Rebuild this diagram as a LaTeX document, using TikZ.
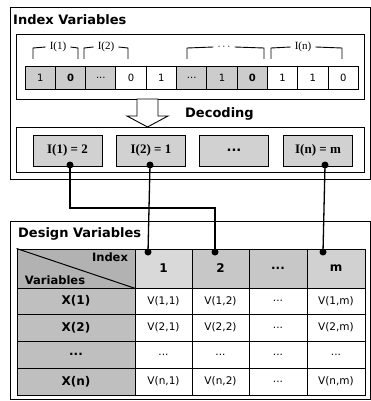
\documentclass[tikz,border=0pt]{standalone}
\usepackage{fontspec}
\setmainfont{Liberation Serif}
\newfontfamily\dv{DejaVu Sans}
\begin{document}
\begin{tikzpicture}[x=1pt,y=-1pt,
  boxframe/.style={draw,line width=0.9pt},
  bit/.style={draw,line width=1pt,minimum width=30.3pt,minimum height=23pt,inner sep=0pt,font=\dv\fontsize{10}{12}\selectfont},
  gcell/.style={fill=black!20},
  deccell/.style={draw,line width=1pt,minimum width=69pt,minimum height=31pt,inner sep=0pt,fill=black!18,font=\bfseries\fontsize{13}{15}\selectfont},
  ttl/.style={anchor=west,inner sep=0pt,font=\dv\bfseries\fontsize{13}{15}\selectfont},
  lbl/.style={inner sep=4pt,font=\fontsize{11}{13}\selectfont},
  brk/.style={line width=0.9pt},
  jdot/.style={circle,fill=black,inner sep=0pt,minimum size=7pt},
  link/.style={line width=1.3pt},
  tcell/.style={draw,line width=1pt,inner sep=0pt,font=\dv\fontsize{10.5}{12}\selectfont},
  hd/.style={tcell,font=\dv\bfseries\fontsize{12}{14}\selectfont},
  rowhd/.style={hd,fill=black!25,minimum width=118pt},
]
\useasboundingbox (0,0) rectangle (371,401);
% ---------- Index variables frame
\draw[boxframe] (10,7) rectangle (370,179);
\node[ttl] (t1) at (13,20) {Index Variables};
\draw[boxframe] (16,34) rectangle (364,99);
% brackets
\node[lbl] (L1) at (58,47) {I(1)};
\draw[brk] (L1.west) -- (33,48) -- (33,59);
\draw[brk] (L1.east) -- (78,48) -- (78,59);
\node[lbl] (L2) at (106,47) {I(2)};
\draw[brk] (L2.west) -- (84,48) -- (84,59);
\draw[brk] (L2.east) -- (128,48) -- (128,59);
\node[lbl] (L3) at (224,47) {$\cdots$};
\draw[brk] (L3.west) -- (187,48) -- (187,59);
\draw[brk] (L3.east) -- (264,48) -- (264,59);
\node[lbl] (L4) at (303,47) {I(n)};
\draw[brk] (L4.west) -- (271,48) -- (271,59);
\draw[brk] (L4.east) -- (342,48) -- (342,59);
% bits
\node[bit,gcell] (b1) at (40.2,78) {1};
\node[bit,gcell] (b2) at (70.5,78) {\bfseries 0};
\node[bit,gcell] (b3) at (100.8,78) {...};
\node[bit] (b4) at (131.1,78) {0};
\node[bit] (b5) at (161.4,78) {1};
\node[bit,gcell] (b6) at (191.7,78) {...};
\node[bit,gcell] (b7) at (222,78) {1};
\node[bit,gcell] (b8) at (252.3,78) {\bfseries 0};
\node[bit] (b9) at (282.6,78) {1};
\node[bit] (b10) at (312.9,78) {1};
\node[bit] (b11) at (343.2,78) {0};
% decoding arrow
\draw[line width=0.9pt,fill=white] (137,99) -- (158,99) -- (158,116) -- (168,116) -- (147.5,127) -- (127,116) -- (137,116) -- cycle;
\node[ttl] (dl) at (185,114) {Decoding};
% decoding box
\draw[boxframe] (16,127) rectangle (364,172);
\node[deccell] (i1) at (67.5,150.5) {I(1) = 2};
\node[deccell] (i2) at (151,150.5) {I(2) = 1};
\node[deccell] (i3) at (234,150.5) {\dv\bfseries ...};
\node[deccell] (i4) at (318,150.5) {I(n) = m};
\node[jdot] (d1) at (70,165) {};
\node[jdot] (d2) at (150,165) {};
\node[jdot] (d4) at (325,165) {};
% ---------- Design variables frame
\draw[boxframe] (10,221) rectangle (370,399.5);
\node[ttl] (t2) at (18,234) {Design Variables};
% header row
\node[hd,fill=black!30,minimum width=118pt,minimum height=39pt] (h0) at (76,268.5) {};
\draw[line width=1pt] (h0.north west) -- (h0.south east);
\node[inner sep=0pt,font=\dv\bfseries\fontsize{11.5}{13}\selectfont] (hi) at (110,257) {Index};
\node[inner sep=0pt,font=\dv\bfseries\fontsize{11.5}{13}\selectfont] (hv) at (55,280) {Variables};
\node[hd,fill=black!15,minimum width=57pt,minimum height=39pt] (h1) at (163.5,268.5) {1};
\node[hd,fill=black!22,minimum width=57pt,minimum height=39pt] (h2) at (220.5,268.5) {2};
\node[hd,fill=black!22,minimum width=58pt,minimum height=39pt] (h3) at (278,268.5) {...};
\node[hd,fill=black!18,minimum width=58pt,minimum height=39pt] (h4) at (336,268.5) {m};
% row headers
\node[rowhd,minimum height=26pt] (r1) at (76,301) {X(1)};
\node[rowhd,minimum height=27pt] (r2) at (76,327.5) {X(2)};
\node[rowhd,minimum height=27pt] (r3) at (76,354.5) {...};
\node[rowhd,minimum height=27pt] (r4) at (76,381.5) {X(n)};
% values
\node[tcell,minimum width=57pt,minimum height=26pt] (v11) at (163.5,301) {V(1,1)};
\node[tcell,minimum width=57pt,minimum height=26pt] (v12) at (220.5,301) {V(1,2)};
\node[tcell,minimum width=58pt,minimum height=26pt] (v13) at (278,301) {...};
\node[tcell,minimum width=58pt,minimum height=26pt] (v14) at (336,301) {V(1,m)};
\node[tcell,minimum width=57pt,minimum height=27pt] (v21) at (163.5,327.5) {V(2,1)};
\node[tcell,minimum width=57pt,minimum height=27pt] (v22) at (220.5,327.5) {V(2,2)};
\node[tcell,minimum width=58pt,minimum height=27pt] (v23) at (278,327.5) {...};
\node[tcell,minimum width=58pt,minimum height=27pt] (v24) at (336,327.5) {V(2,m)};
\node[tcell,minimum width=57pt,minimum height=27pt] (v31) at (163.5,354.5) {...};
\node[tcell,minimum width=57pt,minimum height=27pt] (v32) at (220.5,354.5) {...};
\node[tcell,minimum width=58pt,minimum height=27pt] (v33) at (278,354.5) {...};
\node[tcell,minimum width=58pt,minimum height=27pt] (v34) at (336,354.5) {...};
\node[tcell,minimum width=57pt,minimum height=27pt] (v41) at (163.5,381.5) {V(n,1)};
\node[tcell,minimum width=57pt,minimum height=27pt] (v42) at (220.5,381.5) {V(n,2)};
\node[tcell,minimum width=58pt,minimum height=27pt] (v43) at (278,381.5) {...};
\node[tcell,minimum width=58pt,minimum height=27pt] (v44) at (336,381.5) {V(n,m)};
% target dots
\node[jdot] (e1) at (148,252) {};
\node[jdot] (e2) at (215,252) {};
\node[jdot] (e4) at (323,252) {};
% links
\coordinate (k1) at (70,208);
\draw[link] (d1.center) -- (k1) -| (e2.center);
\draw[link] (d2.center) -- (e1.center);
\draw[link] (d4.center) -- (e4.center);
\end{tikzpicture}
\end{document}
